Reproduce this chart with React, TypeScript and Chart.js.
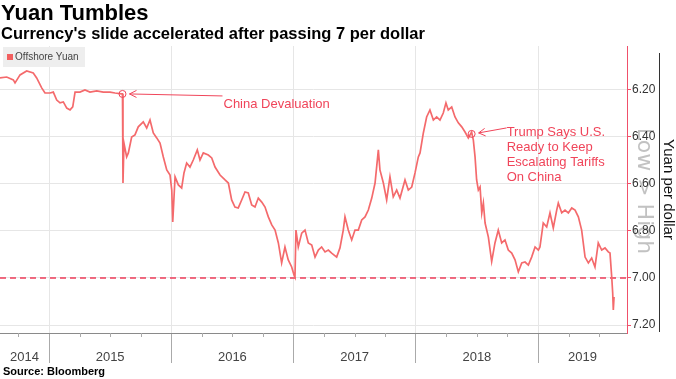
import React, { useEffect, useRef } from "react";
import { Chart, registerables } from "chart.js";

Chart.register(...registerables);

// ---- data (decimal-year dates, CNH per USD) ----
const dates: number[] = [
  2014.599, 2014.654, 2014.708, 2014.722, 2014.763, 2014.817, 2014.871, 2014.899, 2014.94, 2014.967,
  2015.008, 2015.035, 2015.063, 2015.09, 2015.117, 2015.145, 2015.172, 2015.194, 2015.213, 2015.253,
  2015.294, 2015.335, 2015.39, 2015.444, 2015.499, 2015.54, 2015.595, 2015.601, 2015.605, 2015.613,
  2015.635, 2015.649, 2015.676, 2015.703, 2015.73, 2015.771, 2015.799, 2015.826, 2015.853, 2015.881,
  2015.908, 2015.935, 2015.963, 2015.99, 2016.004, 2016.012, 2016.031, 2016.058, 2016.085, 2016.104,
  2016.126, 2016.153, 2016.18, 2016.213, 2016.235, 2016.262, 2016.303, 2016.331, 2016.358, 2016.399,
  2016.44, 2016.467, 2016.494, 2016.521, 2016.548, 2016.576, 2016.603, 2016.63, 2016.658, 2016.685,
  2016.712, 2016.74, 2016.767, 2016.794, 2016.822, 2016.849, 2016.876, 2016.903, 2016.93, 2016.957,
  2016.985, 2017.004, 2017.012, 2017.02, 2017.039, 2017.067, 2017.094, 2017.121, 2017.149, 2017.176,
  2017.203, 2017.23, 2017.258, 2017.285, 2017.312, 2017.353, 2017.38, 2017.407, 2017.421, 2017.448,
  2017.476, 2017.503, 2017.53, 2017.558, 2017.585, 2017.612, 2017.64, 2017.667, 2017.694, 2017.707,
  2017.735, 2017.762, 2017.789, 2017.816, 2017.844, 2017.871, 2017.912, 2017.939, 2017.967, 2017.994,
  2018.021, 2018.035, 2018.062, 2018.089, 2018.116, 2018.144, 2018.171, 2018.198, 2018.225, 2018.247,
  2018.266, 2018.294, 2018.321, 2018.348, 2018.376, 2018.403, 2018.43, 2018.457, 2018.471, 2018.485,
  2018.498, 2018.512, 2018.526, 2018.54, 2018.553, 2018.567, 2018.594, 2018.621, 2018.648, 2018.675,
  2018.703, 2018.73, 2018.757, 2018.785, 2018.812, 2018.839, 2018.867, 2018.894, 2018.921, 2018.948,
  2018.976, 2019.003, 2019.016, 2019.043, 2019.071, 2019.098, 2019.125, 2019.153, 2019.166, 2019.194,
  2019.221, 2019.248, 2019.276, 2019.303, 2019.33, 2019.357, 2019.385, 2019.412, 2019.439, 2019.466,
  2019.493, 2019.521, 2019.548, 2019.575, 2019.589, 2019.603, 2019.611, 2019.616, 2019.622,
];

const offshoreYuan: number[] = [
  6.149, 6.145, 6.157, 6.17, 6.136, 6.119, 6.128, 6.149, 6.191, 6.213,
  6.213, 6.209, 6.243, 6.255, 6.251, 6.277, 6.285, 6.272, 6.209, 6.209,
  6.2, 6.209, 6.204, 6.209, 6.209, 6.213, 6.217, 6.217, 6.596, 6.426,
  6.485, 6.468, 6.4, 6.391, 6.357, 6.336, 6.362, 6.328, 6.383, 6.404,
  6.426, 6.485, 6.54, 6.562, 6.626, 6.762, 6.57, 6.604, 6.617, 6.553,
  6.511, 6.528, 6.498, 6.455, 6.498, 6.468, 6.477, 6.489, 6.528, 6.562,
  6.583, 6.596, 6.668, 6.698, 6.702, 6.668, 6.634, 6.638, 6.689, 6.698,
  6.66, 6.677, 6.698, 6.74, 6.774, 6.796, 6.851, 6.936, 6.868, 6.923,
  6.953, 6.987, 6.996, 6.796, 6.868, 6.809, 6.796, 6.851, 6.86, 6.911,
  6.881, 6.868, 6.889, 6.881, 6.894, 6.911, 6.872, 6.796, 6.74, 6.796,
  6.838, 6.796, 6.796, 6.753, 6.74, 6.711, 6.66, 6.596, 6.455, 6.54,
  6.596, 6.668, 6.57, 6.655, 6.626, 6.66, 6.583, 6.626, 6.613, 6.553,
  6.485, 6.468, 6.383, 6.315, 6.285, 6.328, 6.315, 6.328, 6.298, 6.255,
  6.285, 6.272, 6.315, 6.34, 6.357, 6.379, 6.404, 6.379, 6.413, 6.485,
  6.583, 6.626, 6.613, 6.723, 6.681, 6.766, 6.826, 6.93, 6.851, 6.796,
  6.851, 6.838, 6.881, 6.894, 6.923, 6.974, 6.936, 6.932, 6.945, 6.911,
  6.868, 6.881, 6.868, 6.766, 6.783, 6.723, 6.787, 6.711, 6.681, 6.723,
  6.711, 6.723, 6.702, 6.711, 6.74, 6.796, 6.911, 6.936, 6.915, 6.953,
  6.851, 6.881, 6.872, 6.889, 6.894, 6.996, 7.064, 7.136, 7.081,
];

const yTicks: number[] = [6.2, 6.4, 6.6, 6.8, 7.0, 7.2];
const yearBoundaries: number[] = [2015, 2016, 2017, 2018, 2019];
const yearLabels: number[] = [2014, 2015, 2016, 2017, 2018, 2019];
const quarterTicks: number[] = [
  2014.75, 2015.25, 2015.5, 2015.75, 2016.25, 2016.5, 2016.75, 2017.25, 2017.5, 2017.75,
  2018.25, 2018.5, 2018.75, 2019.25, 2019.5,
];
const thresholdLevel = 7.0;
const xMin = 2014.599;
const xMax = 2019.728;
const yMin = 6.013;
const yMax = 7.234;

const annotationDates: number[] = [2015.601, 2018.457];
const annotationValues: number[] = [6.217, 6.387];
const annotationTexts: string[][] = [
  ["China Devaluation"],
  ["Trump Says U.S.", "Ready to Keep", "Escalating Tariffs", "On China"],
];

const RED_LINE = "#f46a6c";
const RED_TEXT = "#f0455a";
const SANS = "'Liberation Sans', Arial, sans-serif";

const decorPlugin = {
  id: "decor",
  beforeDraw(chart: any) {
    const ctx = chart.ctx;
    ctx.save();
    ctx.translate(644, 191);
    ctx.rotate(Math.PI / 2);
    ctx.font = "22px 'DejaVu Sans', sans-serif";
    ctx.fillStyle = "#c2c2c2";
    ctx.textAlign = "center";
    ctx.textBaseline = "middle";
    ctx.fillText("Low > High", 0, 0);
    ctx.restore();
  },
  afterDraw(chart: any) {
    const ctx = chart.ctx;
    const xs = chart.scales.x;
    const area = chart.chartArea;
    ctx.save();
    // quarter minor ticks
    ctx.strokeStyle = "#aaaaaa";
    ctx.lineWidth = 1;
    quarterTicks.forEach((q) => {
      const px = Math.round(xs.getPixelForValue(q)) + 0.5;
      ctx.beginPath();
      ctx.moveTo(px, area.bottom);
      ctx.lineTo(px, area.bottom + 4);
      ctx.stroke();
    });
    // year labels centred in visible span
    ctx.fillStyle = "#444444";
    ctx.font = `13px ${SANS}`;
    ctx.textAlign = "center";
    ctx.textBaseline = "middle";
    yearLabels.forEach((yr) => {
      const a = Math.max(yr, xMin);
      const b = Math.min(yr + 1, xMax);
      const cx = (xs.getPixelForValue(a) + xs.getPixelForValue(b)) / 2;
      ctx.fillText(String(yr), cx, area.bottom + 24);
    });
    // dark line left of axis title
    ctx.strokeStyle = "#333333";
    ctx.beginPath();
    ctx.moveTo(659.5, 53);
    ctx.lineTo(659.5, 332);
    ctx.stroke();
    ctx.restore();
  },
  afterDatasetsDraw(chart: any) {
    const ctx = chart.ctx;
    const xs = chart.scales.x;
    const ys = chart.scales.y;
    ctx.save();
    ctx.strokeStyle = RED_TEXT;
    ctx.fillStyle = RED_TEXT;
    ctx.lineWidth = 1;
    ctx.font = `13px ${SANS}`;
    ctx.textAlign = "left";
    ctx.textBaseline = "middle";
    // China devaluation
    {
      const px = xs.getPixelForValue(annotationDates[0]);
      const py = ys.getPixelForValue(annotationValues[0]);
      ctx.beginPath();
      ctx.arc(px, py, 3.5, 0, Math.PI * 2);
      ctx.stroke();
      ctx.beginPath();
      ctx.moveTo(px + 7, py);
      ctx.lineTo(px + 100, py + 2);
      ctx.moveTo(px + 7, py);
      ctx.lineTo(px + 14, py - 3.5);
      ctx.moveTo(px + 7, py);
      ctx.lineTo(px + 14, py + 3.5);
      ctx.stroke();
      ctx.fillText(annotationTexts[0][0], px + 101, py + 10);
    }
    // Trump tariffs
    {
      const px = xs.getPixelForValue(annotationDates[1]);
      const py = ys.getPixelForValue(annotationValues[1]);
      ctx.beginPath();
      ctx.arc(px, py, 3.5, 0, Math.PI * 2);
      ctx.stroke();
      ctx.beginPath();
      ctx.moveTo(px + 7, py - 1);
      ctx.lineTo(px + 35, py - 6);
      ctx.moveTo(px + 7, py - 1);
      ctx.lineTo(px + 13, py - 5.5);
      ctx.moveTo(px + 7, py - 1);
      ctx.lineTo(px + 14, py + 2);
      ctx.stroke();
      annotationTexts[1].forEach((t, i) => {
        ctx.fillText(t, px + 35, py - 1 + i * 14.7);
      });
    }
    ctx.restore();
  },
};

export default function App() {
  const canvasRef = useRef<HTMLCanvasElement | null>(null);

  useEffect(() => {
    const canvas = canvasRef.current;
    if (!canvas) return;
    const chart = new Chart(canvas, {
      type: "line",
      data: {
        datasets: [
          {
            label: "Offshore Yuan",
            data: dates.map((d, i) => ({ x: d, y: offshoreYuan[i] })),
            borderColor: RED_LINE,
            borderWidth: 1.7,
            pointRadius: 0,
            tension: 0,
            fill: false,
          },
          {
            label: "7 per dollar",
            data: [
              { x: xMin, y: thresholdLevel },
              { x: xMax, y: thresholdLevel },
            ],
            borderColor: "#ee3d5a",
            borderWidth: 1.5,
            borderDash: [6, 4],
            pointRadius: 0,
            fill: false,
          },
        ],
      },
      options: {
        animation: false,
        responsive: false,
        devicePixelRatio: 1,
        layout: { padding: { left: 0, top: 46, right: 0, bottom: 0 } },
        plugins: {
          legend: { display: false },
          tooltip: { enabled: false },
          title: { display: false },
        },
        scales: {
          x: {
            type: "linear",
            position: "bottom",
            min: xMin,
            max: xMax,
            afterBuildTicks: (s: any) => {
              s.ticks = yearBoundaries.map((v) => ({ value: v }));
            },
            afterFit: (s: any) => {
              s.height = 46;
            },
            ticks: { display: false },
            grid: {
              color: "#e6e6e6",
              lineWidth: 1,
              drawTicks: true,
              tickLength: 30,
              tickColor: "#aaaaaa",
            },
            border: { display: true, color: "#8a8a8a", width: 1 },
          },
          y: {
            type: "linear",
            position: "right",
            reverse: true,
            min: yMin,
            max: yMax,
            afterBuildTicks: (s: any) => {
              s.ticks = yTicks.map((v) => ({ value: v }));
            },
            afterFit: (s: any) => {
              s.width = 49;
            },
            ticks: {
              color: "#333333",
              font: { family: SANS, size: 12 },
              padding: 1,
              callback: (v: any) => Number(v).toFixed(2),
            },
            grid: {
              color: "#e6e6e6",
              lineWidth: 1,
              drawTicks: true,
              tickLength: 4,
              tickColor: "#f0506a",
            },
            border: { display: true, color: "#f0506a", width: 1 },
            title: {
              display: true,
              text: "Yuan per dollar",
              color: "#111111",
              font: { family: SANS, size: 15, lineHeight: 1.07 },
              padding: 0,
            },
          },
        },
      },
      plugins: [decorPlugin],
    } as any);
    return () => chart.destroy();
  }, []);

  return (
    <div
      style={{
        position: "fixed",
        left: 0,
        top: 0,
        width: 676,
        height: 379,
        background: "#ffffff",
        overflow: "hidden",
        fontFamily: SANS,
      }}
    >
      <canvas
        ref={canvasRef}
        width={676}
        height={379}
        style={{ position: "absolute", left: 0, top: 0, width: 676, height: 379 }}
      />
      <div
        style={{
          position: "absolute",
          left: 1,
          top: 2,
          fontSize: 22,
          lineHeight: "22px",
          fontWeight: "bold",
          color: "#000",
          whiteSpace: "nowrap",
        }}
      >
        Yuan Tumbles
      </div>
      <div
        style={{
          position: "absolute",
          left: 1,
          top: 25,
          fontSize: 16.5,
          lineHeight: "17px",
          fontWeight: "bold",
          color: "#000",
          whiteSpace: "nowrap",
        }}
      >
        Currency's slide accelerated after passing 7 per dollar
      </div>
      <div
        style={{
          position: "absolute",
          left: 3,
          top: 47,
          width: 82,
          height: 20,
          background: "#eeeeee",
        }}
      >
        <span
          style={{
            position: "absolute",
            left: 4,
            top: 7,
            width: 6,
            height: 6,
            background: "#f25f5f",
          }}
        />
        <span
          style={{
            position: "absolute",
            left: 12,
            top: 0,
            fontSize: 10,
            lineHeight: "20px",
            color: "#444",
            whiteSpace: "nowrap",
          }}
        >
          Offshore Yuan
        </span>
      </div>
      <div
        style={{
          position: "absolute",
          left: 3,
          top: 366,
          fontSize: 11,
          lineHeight: "11px",
          fontWeight: "bold",
          color: "#000",
          whiteSpace: "nowrap",
        }}
      >
        Source: Bloomberg
      </div>
    </div>
  );
}
